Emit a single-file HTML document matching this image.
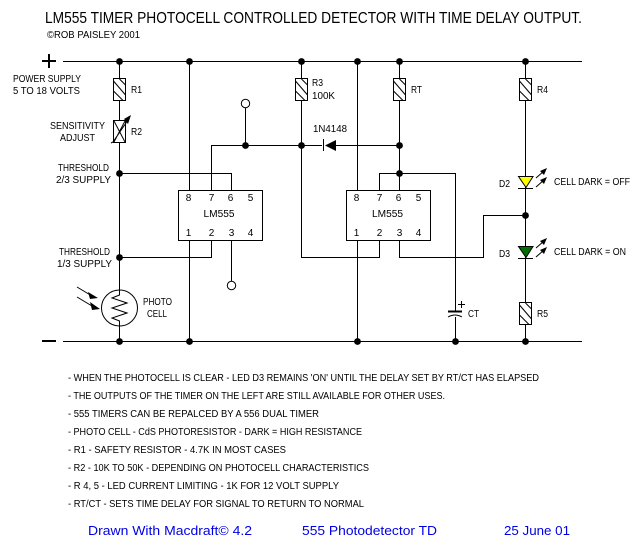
<!DOCTYPE html>
<html><head><meta charset="utf-8"><style>
html,body{margin:0;padding:0;background:#fff}
svg{display:block}
text{font-family:"Liberation Sans",sans-serif;fill:#000;font-size:10px}
.l{stroke:#000;stroke-width:1;fill:none;shape-rendering:crispEdges}
.d{stroke:#000;stroke-width:1;fill:none}
.n text{font-size:10px}
.b text{font-size:13px;fill:#0000e6}
</style></head><body>
<svg width="644" height="548" viewBox="0 0 644 548" xmlns="http://www.w3.org/2000/svg">
<defs>
<g id="res"><rect class="l" x="0.5" y="0.5" width="12" height="22" style="fill:#fff"/><path class="d" d="M6.500 1L12.500 7M.5 3L12.500 17M.5 13L10 22.500"/></g>
<circle id="j" r="3.4" fill="#000"/>
<g id="rays"><path class="d" d="M0 8L8 1M0 17L8 10"/><path d="M11-2L4 1L8 5ZM11 7L4 10L8 14Z" fill="#000"/></g>
</defs>
<g class="l">
<path d="M63 61.500H582M63 341.500H582"/>
<path d="M119.500 61V341M189.500 61V341M301.500 61V257.500H379.500V240M357.500 61V341M399.500 61V190M525.500 61V341"/>
<path d="M211.500 190V145.500H322M336 145.500H399.500M245.500 108V145.500"/>
<path d="M119.500 173.500H231.500V190M119.500 257.500H211.500V240M231.500 240V281"/>
<path d="M379.500 190V173.500H455.500V311M455.500 317V341M399.500 240V257.500H483.500V215.500H525.500"/>
<path d="M323.500 139V151"/>
</g>
<rect x="178.500" y="190.500" width="84" height="50" fill="#fff" stroke="#000" shape-rendering="crispEdges"/>
<rect x="346.500" y="190.500" width="84" height="50" fill="#fff" stroke="#000" shape-rendering="crispEdges"/>
<path d="M42 60h14v2h-14zM48 54h2v14h-2zM42 340h14v2h-14z" fill="#000"/>
<use href="#res" x="113" y="78"/><use href="#res" x="295" y="78"/><use href="#res" x="393" y="78"/><use href="#res" x="519" y="78"/><use href="#res" x="519" y="302"/>
<rect x="113.500" y="120.500" width="12" height="22" fill="#fff" stroke="#000" shape-rendering="crispEdges"/>
<path class="d" d="M114 121L125 142M125 121L114 142M111 143L113 142L128 120"/>
<path d="M131 115L124 119L128 124Z" fill="#000"/>
<path d="M336 140V151L325 145.500Z" fill="#000"/>
<path d="M518.500 176.500H533L526 187.500Z" fill="#ffff00" stroke="#000"/>
<path d="M518 188.500H533" class="l"/>
<path d="M518.500 246.500H533L526 257.500Z" fill="#006e00" stroke="#000"/>
<path d="M518 258.500H533" class="l"/>
<use href="#rays" x="536" y="170"/>
<use href="#rays" x="536" y="240"/>
<circle cx="119.500" cy="308" r="18" fill="#fff" stroke="#000"/>
<path class="d" d="M119.500 290V295L112 298L127 303L112 308L127 313L112 318L119.500 321V326"/>
<path class="d" d="M77 287L92 296M77 297L92 306"/>
<path d="M98 298L88 292L90 299ZM100 309L90 302L92 310Z" fill="#000"/>
<circle cx="245.500" cy="103.500" r="4.200" fill="#fff" stroke="#000"/>
<circle cx="231.500" cy="285.500" r="4.200" fill="#fff" stroke="#000"/>
<path class="l" d="M448 311.500H462" style="stroke-width:2"/>
<path class="d" d="M448 317Q455 313 462 317"/>
<path class="l" d="M458 304.500H465M461.500 301V308"/>
<use href="#j" x="119.500" y="61.500"/><use href="#j" x="189.500" y="61.500"/><use href="#j" x="301.500" y="61.500"/><use href="#j" x="357.500" y="61.500"/><use href="#j" x="399.500" y="61.500"/><use href="#j" x="525.500" y="61.500"/>
<use href="#j" x="119.500" y="341.500"/><use href="#j" x="189.500" y="341.500"/><use href="#j" x="357.500" y="341.500"/><use href="#j" x="455.500" y="341.500"/><use href="#j" x="525.500" y="341.500"/>
<use href="#j" x="245.500" y="145.500"/><use href="#j" x="301.500" y="145.500"/><use href="#j" x="399.500" y="145.500"/><use href="#j" x="119.500" y="173.500"/><use href="#j" x="399.500" y="173.500"/><use href="#j" x="119.500" y="257.500"/><use href="#j" x="525.500" y="215.500"/>
<text x="45" y="23" textLength="537" lengthAdjust="spacingAndGlyphs" style="font-size:15.500px">LM555 TIMER PHOTOCELL CONTROLLED DETECTOR WITH TIME DELAY OUTPUT.</text>
<g>
<text x="47" y="38" textLength="93" lengthAdjust="spacingAndGlyphs">©ROB PAISLEY 2001</text>
<text x="13" y="82" textLength="68" lengthAdjust="spacingAndGlyphs">POWER SUPPLY</text>
<text x="13" y="94" textLength="67" lengthAdjust="spacingAndGlyphs">5 TO 18 VOLTS</text>
<text x="50" y="129" textLength="55" lengthAdjust="spacingAndGlyphs">SENSITIVITY</text>
<text x="60" y="141" textLength="35" lengthAdjust="spacingAndGlyphs">ADJUST</text>
<text x="58" y="171" textLength="51" lengthAdjust="spacingAndGlyphs">THRESHOLD</text>
<text x="56" y="183" textLength="55" lengthAdjust="spacingAndGlyphs">2/3 SUPPLY</text>
<text x="59" y="255" textLength="51" lengthAdjust="spacingAndGlyphs">THRESHOLD</text>
<text x="57" y="267" textLength="55" lengthAdjust="spacingAndGlyphs">1/3 SUPPLY</text>
<text x="143" y="305" textLength="29" lengthAdjust="spacingAndGlyphs">PHOTO</text>
<text x="147" y="317" textLength="20" lengthAdjust="spacingAndGlyphs">CELL</text>
<text x="131" y="93" textLength="11" lengthAdjust="spacingAndGlyphs">R1</text>
<text x="131" y="135" textLength="11" lengthAdjust="spacingAndGlyphs">R2</text>
<text x="312" y="86" textLength="11" lengthAdjust="spacingAndGlyphs">R3</text>
<text x="312" y="99" textLength="23" lengthAdjust="spacingAndGlyphs">100K</text>
<text x="313" y="132" textLength="34" lengthAdjust="spacingAndGlyphs">1N4148</text>
<text x="411" y="93" textLength="11" lengthAdjust="spacingAndGlyphs">RT</text>
<text x="537" y="93" textLength="11" lengthAdjust="spacingAndGlyphs">R4</text>
<text x="537" y="317" textLength="11" lengthAdjust="spacingAndGlyphs">R5</text>
<text x="468" y="317" textLength="11" lengthAdjust="spacingAndGlyphs">CT</text>
<text x="499" y="187" textLength="11" lengthAdjust="spacingAndGlyphs">D2</text>
<text x="499" y="257" textLength="11" lengthAdjust="spacingAndGlyphs">D3</text>
<text x="554" y="185" textLength="76" lengthAdjust="spacingAndGlyphs">CELL DARK = OFF</text>
<text x="554" y="255" textLength="72" lengthAdjust="spacingAndGlyphs">CELL DARK = ON</text>
<text x="203.500" y="217" textLength="31" lengthAdjust="spacingAndGlyphs">LM555</text>
<text x="372" y="217" textLength="31" lengthAdjust="spacingAndGlyphs">LM555</text>
</g>
<g text-anchor="middle">
<text x="188.500" y="201">8</text><text x="211.500" y="201">7</text><text x="230.500" y="201">6</text><text x="250.500" y="201">5</text>
<text x="188.500" y="236">1</text><text x="211.500" y="236">2</text><text x="231.500" y="236">3</text><text x="250.500" y="236">4</text>
<text x="356.500" y="201">8</text><text x="379.500" y="201">7</text><text x="398.500" y="201">6</text><text x="418.500" y="201">5</text>
<text x="356.500" y="236">1</text><text x="379.500" y="236">2</text><text x="399.500" y="236">3</text><text x="418.500" y="236">4</text>
</g>
<g class="n">
<text x="68" y="381" textLength="471" lengthAdjust="spacingAndGlyphs">- WHEN THE PHOTOCELL IS CLEAR - LED D3 REMAINS 'ON' UNTIL THE DELAY SET BY RT/CT HAS ELAPSED</text>
<text x="68" y="399" textLength="377" lengthAdjust="spacingAndGlyphs">- THE OUTPUTS OF THE TIMER ON THE LEFT ARE STILL AVAILABLE FOR OTHER USES.</text>
<text x="68" y="417" textLength="251" lengthAdjust="spacingAndGlyphs">- 555 TIMERS CAN BE REPALCED BY A 556 DUAL TIMER</text>
<text x="68" y="435" textLength="294" lengthAdjust="spacingAndGlyphs">- PHOTO CELL - CdS PHOTORESISTOR - DARK = HIGH RESISTANCE</text>
<text x="68" y="453" textLength="218" lengthAdjust="spacingAndGlyphs">- R1 - SAFETY RESISTOR - 4.7K IN MOST CASES</text>
<text x="68" y="471" textLength="301" lengthAdjust="spacingAndGlyphs">- R2 - 10K TO 50K - DEPENDING ON PHOTOCELL CHARACTERISTICS</text>
<text x="68" y="489" textLength="271" lengthAdjust="spacingAndGlyphs">- R 4, 5 - LED CURRENT LIMITING - 1K FOR 12 VOLT SUPPLY</text>
<text x="68" y="507" textLength="296" lengthAdjust="spacingAndGlyphs">- RT/CT -  SETS TIME DELAY FOR SIGNAL TO RETURN TO NORMAL</text>
</g>
<g class="b">
<text x="88" y="535" textLength="164" lengthAdjust="spacingAndGlyphs">Drawn With Macdraft© 4.2</text>
<text x="302" y="535" textLength="135" lengthAdjust="spacingAndGlyphs">555 Photodetector TD</text>
<text x="504" y="535" textLength="66" lengthAdjust="spacingAndGlyphs">25 June 01</text>
</g>
</svg>
</body></html>
